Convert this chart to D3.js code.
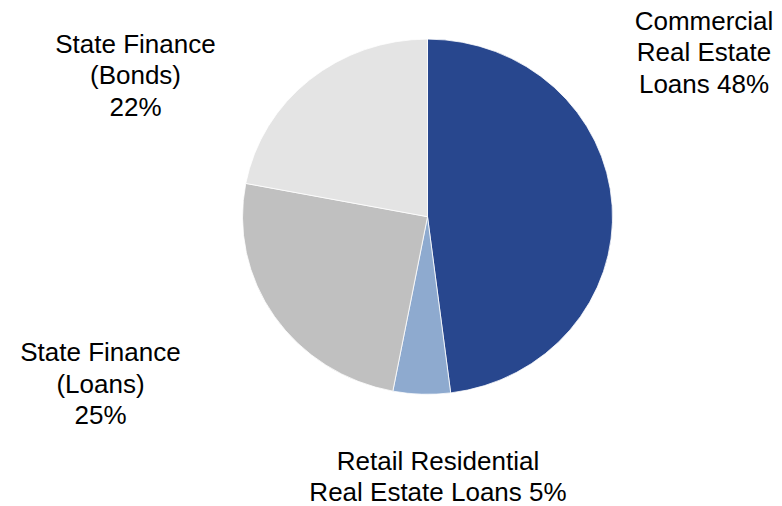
<!DOCTYPE html>
<html>
<head>
<meta charset="utf-8">
<script src="https://cdn.jsdelivr.net/npm/d3@7"></script>
<style>
  html, body { margin: 0; padding: 0; background: #ffffff; }
  svg { display: block; }
  text { font-family: "Liberation Sans", Arial, sans-serif; fill: #000000; }
</style>
</head>
<body>
<svg id="chart" width="782" height="506"></svg>
<script>
// Portfolio composition (%)
const categories = [
  "Commercial Real Estate Loans",
  "Retail Residential Real Estate Loans",
  "State Finance (Loans)",
  "State Finance (Bonds)"
];
const values = [48, 5, 25, 22];

// Label text, line by line
const labelLines = [
  ["Commercial", "Real Estate", "Loans 48%"],
  ["Retail Residential", "Real Estate Loans 5%"],
  ["State Finance", "(Loans)", "25%"],
  ["State Finance", "(Bonds)", "22%"]
];

// Slice fills
const sliceColors = ["#28478e", "#8eaacf", "#c0c0c0", "#e4e4e4"];

// Layout
const W = 782, H = 506;
const cx = 427.5, cy = 216.7;
const radius = 185;
const yScale = 0.96;
const fontSize = 26;
// Anchor (center x, first baseline y, line gap) for each label block
const labelAnchors = [
  [704, 29.5, 31.5],
  [438, 470, 30.5],
  [100.5, 361, 31.5],
  [135.5, 52.5, 31.5]
];

const data = categories.map((c, i) => ({ category: c, value: values[i], lines: labelLines[i] }));

const svg = d3.select("#chart");

const color = d3.scaleOrdinal().domain(categories).range(sliceColors);

const pie = d3.pie()
  .value(d => d.value)
  .sort(null)
  .startAngle(0)
  .endAngle(2 * Math.PI);

const arc = d3.arc().innerRadius(0).outerRadius(radius);

const pieG = svg.append("g")
  .attr("transform", `translate(${cx},${cy}) scale(1,${yScale})`);

pieG.selectAll("path.slice")
  .data(pie(data))
  .join("path")
  .attr("class", "slice")
  .attr("d", arc)
  .attr("fill", d => color(d.data.category))
  .attr("stroke", "#ffffff")
  .attr("stroke-width", 0.8)
  .attr("stroke-linejoin", "round");

const labels = svg.append("g").attr("class", "labels");

labels.selectAll("text")
  .data(data)
  .join("text")
  .attr("text-anchor", "middle")
  .attr("font-size", fontSize)
  .each(function (d, i) {
    const [ax, ay, gap] = labelAnchors[i];
    d3.select(this).selectAll("tspan")
      .data(d.lines)
      .join("tspan")
      .attr("x", ax)
      .attr("y", (t, j) => ay + j * gap)
      .text(t => t);
  });
</script>
</body>
</html>
